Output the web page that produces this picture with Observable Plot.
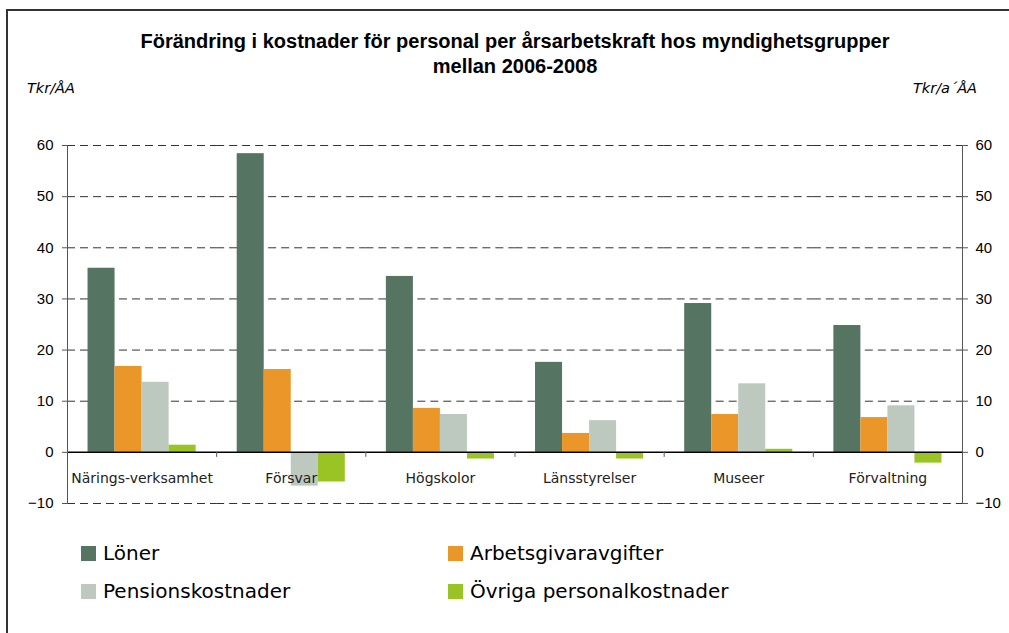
<!DOCTYPE html>
<html>
<head>
<meta charset="utf-8">
<script src="https://cdn.jsdelivr.net/npm/d3@7"></script>
<script src="https://cdn.jsdelivr.net/npm/@observablehq/plot@0.6"></script>
<style>
  html, body { margin: 0; padding: 0; background: #fff; }
  #wrap { position: relative; width: 1009px; height: 633px; overflow: hidden; background: #fff; font-family: "Liberation Sans", Arial, sans-serif; color: #000; }
  #border { position: absolute; left: 6px; top: 9px; width: 1020px; height: 640px; border-left: 2px solid #333; border-top: 2px solid #333; }
  #title { position: absolute; left: 0; width: 1030px; top: 29px; text-align: center; font-weight: bold; font-size: 20px; line-height: 25px; }
  .unit { position: absolute; top: 80px; font-family: "DejaVu Sans", sans-serif; font-style: italic; font-size: 14.5px; }
  #unitL { left: 27px; }
  #unitR { right: 32px; }
  #chart { position: absolute; left: 0; top: 120px; }
  .leg { position: absolute; font-family: "DejaVu Sans", sans-serif; font-size: 20px; line-height: 24px; white-space: nowrap; }
  .sw { position: absolute; width: 15px; height: 15px; }
</style>
</head>
<body>
<div id="wrap">
  <div id="border"></div>
  <div id="title">Förändring i kostnader för personal per årsarbetskraft hos myndighetsgrupper<br>mellan 2006-2008</div>
  <div class="unit" id="unitL">Tkr/ÅA</div>
  <div class="unit" id="unitR">Tkr/a´ÅA</div>
  <div id="chart"></div>
  <div id="legend"></div>
</div>
<script>
const categories = ["Närings-verksamhet", "Försvar", "Högskolor", "Länsstyrelser", "Museer", "Förvaltning"];
const series = ["Löner", "Arbetsgivaravgifter", "Pensionskostnader", "Övriga personalkostnader"];
const loner = [36.0, 58.4, 34.4, 17.6, 29.1, 24.8];
const arbetsgivaravgifter = [16.8, 16.2, 8.6, 3.7, 7.4, 6.8];
const pensionskostnader = [13.7, -6.6, 7.4, 6.2, 13.4, 9.1];
const ovriga = [1.4, -5.8, -1.3, -1.3, 0.6, -2.1];
const colors = ["#557461", "#EB9628", "#BDC8BF", "#9AC424"];
const yTicks = [-10, 0, 10, 20, 30, 40, 50, 60];

const valuesBySeries = [loner, arbetsgivaravgifter, pensionskostnader, ovriga];
const rows = [];
categories.forEach((c, i) => {
  series.forEach((s, j) => rows.push({category: c, series: s, value: valuesBySeries[j][i]}));
});

const W = 1009, H = 400, mT = 25, mB = 17, mL = 67, mR = 47;
const yDomain = [-10, 60];
const innerH = H - mT - mB;
const zeroPx = (yDomain[1] - 0) / (yDomain[1] - yDomain[0]) * innerH;

const plot = Plot.plot({
  width: W, height: H,
  marginTop: mT, marginBottom: mB, marginLeft: mL, marginRight: mR,
  fx: {domain: categories, padding: 0, round: false, axis: null},
  x: {domain: series, paddingInner: 0, paddingOuter: 0.76, round: false, axis: null},
  y: {domain: yDomain, axis: null},
  color: {domain: series, range: colors},
  style: {fontFamily: "'Liberation Sans', Arial, sans-serif", fontSize: "15px", color: "#000", background: "transparent", overflow: "visible"},
  marks: [
    Plot.gridY(yTicks.filter(d => d !== 0), {stroke: "#333", strokeOpacity: 1, strokeWidth: 1, strokeDasharray: "8,5"}),
    Plot.barY(rows, {fx: "category", x: "series", y: "value", fill: "series"}),
    Plot.ruleY([0], {stroke: "#000", strokeWidth: 1.5}),
    Plot.frame({anchor: "left", insetTop: zeroPx, insetBottom: innerH - zeroPx - 4, stroke: "#555"}),
    Plot.frame({anchor: "left", facetAnchor: "left", stroke: "#555"}),
    Plot.frame({anchor: "right", facetAnchor: "right", stroke: "#555"}),
    Plot.axisY({anchor: "left", ticks: yTicks, tickSize: 5, tickPadding: 9, stroke: "#555", fill: "#000", label: null}),
    Plot.axisY({anchor: "right", ticks: yTicks, tickSize: 5, tickPadding: 8, stroke: "#555", fill: "#000", label: null}),
    Plot.text(categories, {fx: d => d, y: () => 0, dy: 26, text: d => d, fontFamily: "DejaVu Sans", fontSize: 14, fill: "#222"})
  ]
});
document.getElementById("chart").appendChild(plot);

// Legend (HTML, below the chart)
const legend = document.getElementById("legend");
const legPos = [[81, 546], [448, 546], [81, 584], [448, 584]];
series.forEach((s, i) => {
  const [lx, ly] = legPos[i];
  const sw = document.createElement("div");
  sw.className = "sw";
  sw.style.left = lx + "px"; sw.style.top = ly + "px"; sw.style.background = colors[i];
  legend.appendChild(sw);
  const t = document.createElement("div");
  t.className = "leg";
  t.style.left = (lx + 22) + "px"; t.style.top = (ly - 5) + "px";
  t.textContent = s;
  legend.appendChild(t);
});
</script>
</body>
</html>
